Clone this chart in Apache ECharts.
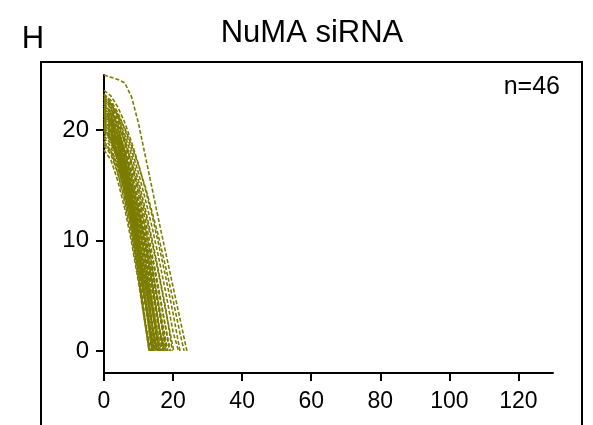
<!DOCTYPE html>
<html>
  <head>
    <meta charset="utf-8">
    <title>NuMA siRNA</title>
    <script src="https://cdn.jsdelivr.net/npm/echarts@6/dist/echarts.min.js"></script>
    <style>
      html, body { margin: 0; padding: 0; background: #fff; }
      #chart { width: 593px; height: 425px; }
    </style>
  </head>
  <body>
    <div id="chart"></div>
    <script type="text/javascript">
      // sampling times shared by every track
      var times = [0, 2, 4, 6, 8, 10, 12, 14, 16, 18, 20, 22];
      var xTicks = [0, 20, 40, 60, 80, 100, 120];
      var yTicks = [0, 10, 20];

      // time at which each track reaches 0
      var ends = [
        13.2, 13.0, 13.4, 13.1, 13.6,
        14.0, 14.3, 13.9, 14.5, 14.2, 14.1, 14.6, 14.4,
        15.0, 15.2, 14.9, 15.3, 15.1, 15.4, 14.8, 15.5,
        16.0, 16.3, 15.8, 16.5, 16.1, 16.2, 15.9,
        17.0, 17.3, 16.8, 17.5, 17.1, 17.8,
        18.0, 18.3, 18.5, 17.9,
        19.2, 19.0,
        19.8, 20.2,
        21.6, 22.0, 23.2, 24.0
      ];

      // values at the sampling times, one row per track
      var tracks = [
        [19.0, 18.1, 16.1, 13.5, 10.3, 6.5, 2.3],
        [20.2, 19.2, 17.1, 14.3, 10.9, 6.9, 2.4],
        [21.0, 20.0, 17.8, 14.9, 11.3, 7.2, 2.5],
        [18.2, 17.3, 15.4, 12.9, 9.8, 6.2, 2.2],
        [22.0, 20.9, 18.7, 15.6, 11.9, 7.5, 2.6],

        [20.0, 19.1, 17.3, 14.8, 11.8, 8.3, 4.4],
        [21.5, 20.6, 18.6, 16.0, 12.7, 8.9, 4.7],
        [19.3, 18.5, 16.7, 14.3, 11.4, 8.0, 4.2],
        [22.5, 21.5, 19.5, 16.7, 13.3, 9.4, 4.9],
        [20.7, 19.8, 17.9, 15.4, 12.3, 8.6, 4.5],
        [18.6, 17.8, 16.1, 13.8, 11.0, 7.7, 4.1],
        [21.8, 20.8, 18.9, 16.2, 12.9, 9.1, 4.8],
        [20.3, 19.4, 17.6, 15.1, 12.0, 8.4, 4.4],

        [21.0, 20.2, 18.5, 16.1, 13.3, 10.0, 6.3, 2.2],
        [19.8, 19.0, 17.4, 15.2, 12.6, 9.4, 5.9, 2.1],
        [22.2, 21.3, 19.5, 17.1, 14.1, 10.6, 6.7, 2.3],
        [20.5, 19.7, 18.0, 15.8, 13.0, 9.8, 6.2, 2.1],
        [18.9, 18.1, 16.6, 14.5, 12.0, 9.0, 5.7, 2.0],
        [21.6, 20.7, 19.0, 16.6, 13.7, 10.3, 6.5, 2.2],
        [20.0, 19.2, 17.6, 15.4, 12.7, 9.5, 6.0, 2.1],
        [23.0, 22.1, 20.2, 17.7, 14.6, 11.0, 6.9, 2.4],

        [20.8, 20.1, 18.5, 16.5, 13.9, 11.0, 7.7, 4.0],
        [21.9, 21.1, 19.5, 17.3, 14.7, 11.6, 8.1, 4.2],
        [19.5, 18.8, 17.4, 15.4, 13.1, 10.3, 7.2, 3.7],
        [22.8, 22.0, 20.3, 18.1, 15.3, 12.1, 8.4, 4.4],
        [20.2, 19.5, 18.0, 16.0, 13.5, 10.7, 7.5, 3.9],
        [21.3, 20.5, 19.0, 16.9, 14.3, 11.3, 7.9, 4.1],
        [18.8, 18.1, 16.8, 14.9, 12.6, 9.9, 6.9, 3.6],

        [21.2, 20.5, 19.1, 17.2, 14.9, 12.1, 9.1, 5.7, 2.0],
        [22.4, 21.7, 20.2, 18.2, 15.7, 12.8, 9.6, 6.0, 2.1],
        [20.0, 19.3, 18.0, 16.2, 14.0, 11.4, 8.5, 5.3, 1.8],
        [23.2, 22.4, 20.9, 18.8, 16.3, 13.3, 9.9, 6.2, 2.1],
        [20.6, 19.9, 18.6, 16.7, 14.4, 11.8, 8.8, 5.5, 1.9],
        [21.7, 21.0, 19.6, 17.6, 15.2, 12.4, 9.3, 5.8, 2.0],

        [22.0, 21.3, 20.0, 18.2, 16.0, 13.4, 10.5, 7.3, 3.8],
        [21.0, 20.4, 19.1, 17.4, 15.3, 12.8, 10.0, 7.0, 3.6],
        [23.3, 22.6, 21.2, 19.3, 16.9, 14.2, 11.1, 7.7, 4.0],
        [20.4, 19.8, 18.6, 16.9, 14.8, 12.4, 9.7, 6.8, 3.5],

        [22.6, 22.0, 20.7, 19.0, 16.9, 14.5, 11.8, 8.7, 5.4, 1.9],
        [21.4, 20.8, 19.6, 18.0, 16.0, 13.7, 11.1, 8.3, 5.1, 1.8],

        [23.0, 22.4, 21.3, 19.6, 17.7, 15.4, 12.8, 10.0, 6.9, 3.6],
        [22.2, 21.6, 20.5, 19.0, 17.1, 14.9, 12.4, 9.7, 6.7, 3.4],

        [23.2, 22.7, 21.6, 20.1, 18.2, 16.1, 13.7, 11.1, 8.2, 5.1, 1.7],
        [23.6, 23.1, 22.1, 20.7, 18.9, 16.9, 14.6, 12.2, 9.4, 6.5, 3.4],
        [22.8, 22.3, 21.4, 20.2, 18.6, 16.8, 14.8, 12.5, 10.1, 7.4, 4.6, 1.6],
        [25.0, 24.8, 24.6, 24.3, 23.0, 20.6, 17.6, 14.6, 11.6, 8.7, 5.8, 2.9]
      ];

      var lineColor = '#7c7c00';
      var fontName = '"Liberation Sans", Arial, Helvetica, sans-serif';

      var series = [];
      for (var i = 0; i < tracks.length; i++) {
        var pts = [];
        for (var j = 0; j < tracks[i].length; j++) {
          pts.push([times[j], tracks[i][j]]);
        }
        pts.push([ends[i], 0]);
        series.push({
          type: 'line',
          data: pts,
          showSymbol: false,
          silent: true,
          lineStyle: { color: lineColor, width: 1.6, type: [4, 2] }
        });
      }

      var myChart = echarts.init(document.getElementById('chart'));
      myChart.setOption({
        animation: false,
        backgroundColor: '#fff',
        grid: { left: 104, right: 40, top: 75, bottom: 52 },
        graphic: [
          {
            type: 'rect',
            shape: { x: 41, y: 62, width: 541, height: 420 },
            style: { fill: 'none', stroke: '#000', lineWidth: 2 },
            silent: true
          },
          {
            type: 'text', x: 33, y: 39,
            style: { text: 'H', fontSize: 31, fontFamily: fontName, fill: '#000',
                     align: 'center', verticalAlign: 'middle' }
          },
          {
            type: 'text', x: 312, y: 33,
            style: { text: 'NuMA siRNA', fontSize: 31, fontFamily: fontName, fill: '#000',
                     align: 'center', verticalAlign: 'middle' }
          },
          {
            type: 'text', x: 560, y: 87,
            style: { text: 'n=46', fontSize: 25, fontFamily: fontName, fill: '#000',
                     align: 'right', verticalAlign: 'middle' }
          }
        ],
        xAxis: {
          type: 'value',
          min: 0,
          max: 130,
          interval: 20,
          splitLine: { show: false },
          axisLine: { show: true, onZero: false, lineStyle: { color: '#000', width: 2 } },
          axisTick: { show: true, length: 8, customValues: xTicks, lineStyle: { color: '#000', width: 2 } },
          axisLabel: { customValues: xTicks, color: '#000', fontSize: 23, fontFamily: fontName, margin: 17 }
        },
        yAxis: {
          type: 'value',
          min: -2,
          max: 25,
          splitLine: { show: false },
          axisLine: { show: true, onZero: false, lineStyle: { color: '#000', width: 2 } },
          axisTick: { show: true, length: 8, customValues: yTicks, lineStyle: { color: '#000', width: 2 } },
          axisLabel: { customValues: yTicks, color: '#000', fontSize: 24, fontFamily: fontName, margin: 15 }
        },
        series: series
      });
    </script>
  </body>
</html>
